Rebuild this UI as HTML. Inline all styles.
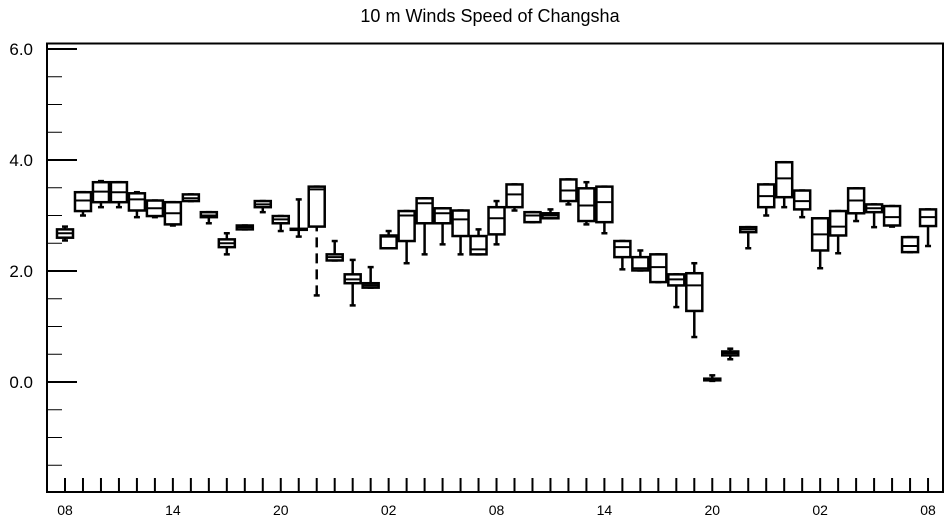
<!DOCTYPE html>
<html><head><meta charset="utf-8"><style>
body{margin:0;background:#fff}
svg{display:block;font-family:"Liberation Sans",Arial,sans-serif}
</style></head><body>
<svg width="952" height="522" viewBox="0 0 952 522" xmlns="http://www.w3.org/2000/svg">
<text x="490" y="22" font-size="18" text-anchor="middle">10 m Winds Speed of Changsha</text>
<g id="plot"></g>
</svg>
<script>
const mins=[2.55,3.0,3.15,3.15,2.97,2.97,2.82,3.26,2.86,2.3,2.75,3.06,2.72,2.62,1.56,2.19,1.38,1.7,2.41,2.14,2.3,2.48,2.3,2.3,2.48,3.09,2.88,2.95,3.2,2.84,2.68,2.03,2.01,1.8,1.35,0.81,0.02,0.41,2.41,3.0,3.15,2.97,2.05,2.32,2.9,2.79,2.8,2.34,2.45];
const q1s=[2.6,3.08,3.24,3.24,3.09,2.99,2.84,3.26,2.97,2.43,2.75,3.15,2.86,2.75,2.8,2.19,1.78,1.7,2.41,2.54,2.86,2.86,2.63,2.3,2.66,3.15,2.88,2.95,3.26,2.9,2.88,2.25,2.01,1.8,1.74,1.28,0.03,0.48,2.7,3.15,3.33,3.11,2.37,2.64,3.04,3.06,2.82,2.34,2.81];
const meds=[2.68,3.27,3.43,3.42,3.29,3.13,3.04,3.31,3.0,2.5,2.79,3.2,2.93,2.75,3.47,2.25,1.85,1.74,2.62,3.0,3.22,3.04,2.93,2.39,2.95,3.38,3.0,3.0,3.45,3.18,3.24,2.43,2.05,2.07,1.85,1.74,0.05,0.52,2.75,3.35,3.67,3.26,2.66,2.8,3.27,3.13,2.97,2.45,2.97];
const q3s=[2.75,3.42,3.6,3.6,3.4,3.27,3.24,3.38,3.06,2.57,2.82,3.26,2.99,2.76,3.52,2.3,1.94,1.78,2.64,3.08,3.31,3.13,3.09,2.63,3.15,3.56,3.06,3.04,3.65,3.49,3.52,2.54,2.25,2.3,1.94,1.96,0.06,0.55,2.79,3.56,3.96,3.45,2.95,3.08,3.49,3.2,3.17,2.61,3.11];
const maxs=[2.8,3.42,3.62,3.6,3.42,3.27,3.24,3.38,3.06,2.68,2.82,3.26,2.99,3.29,3.52,2.54,2.2,2.07,2.72,3.08,3.31,3.13,3.09,2.75,3.26,3.56,3.06,3.11,3.65,3.6,3.52,2.54,2.37,2.3,1.94,2.14,0.12,0.6,2.79,3.56,3.96,3.45,2.95,3.08,3.49,3.2,3.17,2.61,3.11];
const xLabels=["08","14","20","02","08","14","20","02","08"];
const yTicks=[0,2,4,6];
const yLabels=["0.0","2.0","4.0","6.0"];

const NS="http://www.w3.org/2000/svg";
const g=document.getElementById('plot');
const L=47,R=943,T=43.5,B=492;
const y=v=>382-v*55.5;
const x=i=>65+i*17.98;
function el(t,a){const e=document.createElementNS(NS,t);for(const k in a)e.setAttribute(k,a[k]);g.appendChild(e);return e;}
const frame=el('rect',{x:L,y:T,width:R-L,height:B-T,fill:'none',stroke:'#000','stroke-width':2});


for(let v=-1.5;v<=6.01;v+=0.5){
  const major=Math.abs(v/2-Math.round(v/2))<1e-6;
  const t=el('line',{x1:L,x2:L+(major?30:15),y1:y(v),y2:y(v),stroke:'#000','stroke-width':major?2:1});
  
  
}
yTicks.forEach((v,i)=>{
  const t=el('text',{x:33,y:y(v)+6,'font-size':17,'text-anchor':'end'});
  t.textContent=yLabels[i];
  
  
});
for(let i=0;i<meds.length;i++){
  const t=el('line',{x1:x(i),x2:x(i),y1:B,y2:B-14,stroke:'#000','stroke-width':2});
  
  
}
xLabels.forEach((s,k)=>{
  const t=el('text',{x:x(k*6),y:515,'font-size':14,'text-anchor':'middle'});
  t.textContent=s;
  
  
});
const w=16;
for(let i=0;i<meds.length;i++){
  const cx=x(i);
  const wl=el('line',{x1:cx,x2:cx,y1:y(mins[i]),y2:y(maxs[i]),stroke:'#000','stroke-width':2.5,'stroke-dasharray':i===14?'10,6':'none'});
  
  
  [mins[i],maxs[i]].forEach(v=>{
    const c=el('line',{x1:cx-3,x2:cx+3,y1:y(v),y2:y(v),stroke:'#000','stroke-width':2.5});
    
    
  });
  const bx=el('rect',{x:cx-w/2,y:y(q3s[i]),width:w,height:Math.max(1,y(q1s[i])-y(q3s[i])),fill:'#fff',stroke:'#000','stroke-width':2.5});
  
  
  const m=el('line',{x1:cx-w/2,x2:cx+w/2,y1:y(meds[i]),y2:y(meds[i]),stroke:'#000','stroke-width':2});
  
  
}
</script>
</body></html>
